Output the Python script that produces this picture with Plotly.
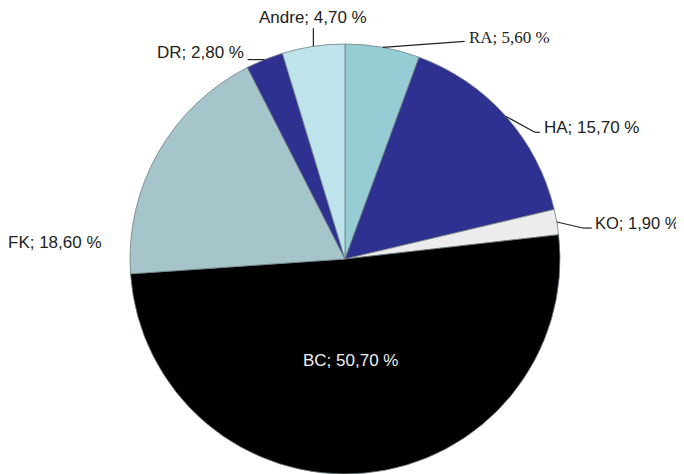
import math
import plotly.graph_objects as go

# ---- data ----
categories = ["RA", "HA", "KO", "BC", "FK", "DR", "Andre"]
shares = [5.60, 15.70, 1.90, 50.70, 18.60, 2.80, 4.70]
label_texts = ["RA; 5,60 %", "HA; 15,70 %", "KO; 1,90 %", "BC; 50,70 %",
               "FK; 18,60 %", "DR; 2,80 %", "Andre; 4,70 %"]

# ---- style ----
colors = ["#96cdd4", "#2f3190", "#ececec", "#000000", "#a6c5cb", "#2f3190", "#bee3ea"]
OFF = 8                      # browser page margin
W, H = 684 - OFF, 474 - OFF
CX, CY, R = 345 - OFF, 259 - OFF, 215

# per-label placement offsets (pixels)
label_style = {
    "RA":    dict(leg=[(82, -6)], txt=(2, -4), xa="left", font="Liberation Serif", size=17),
    "HA":    dict(leg=[(29, 16), (5, 0)], txt=(2, -5), xa="left", font="Liberation Sans", size=17),
    "KO":    dict(leg=[(26, 6), (9, 0)], txt=(1, -5), xa="left", font="Liberation Sans", size=16.5),
    "BC":    dict(leg=None, inner=(350 - OFF, 360 - OFF), xa="center", font="Liberation Sans", size=17),
    "FK":    dict(leg=None, outer=(104 - OFF, 242 - OFF), xa="right", font="Liberation Sans", size=17),
    "DR":    dict(leg=[(-17, 0)], txt=(-2, -7), xa="right", font="Liberation Sans", size=17),
    "Andre": dict(leg=[(0, -18)], txt=(0, -11), xa="center", font="Liberation Sans", size=17),
}

fig = go.Figure(go.Pie(
    labels=categories,
    values=shares,
    sort=False,
    direction="clockwise",
    rotation=0,
    marker=dict(colors=colors, line=dict(color="#6f7f85", width=0.8)),
    textinfo="none",
    hoverinfo="label+percent",
    showlegend=False,
    domain=dict(x=[(CX - R) / W, (CX + R) / W], y=[1 - (CY + R) / H, 1 - (CY - R) / H]),
))

def to_paper(px, py):
    return px / W, 1 - py / H

total = sum(shares)
cum = 0.0
shapes, annotations = [], []
for cat, val, txt in zip(categories, shares, label_texts):
    mid = (cum + val / 2) / total * 2 * math.pi
    cum += val
    st = label_style[cat]
    rim = (CX + R * math.sin(mid), CY - R * math.cos(mid))
    font_color = "#f0f0f0" if cat == "BC" else "#222222"
    if st.get("leg"):
        pts = [rim]
        for dx, dy in st["leg"]:
            pts.append((pts[-1][0] + dx, pts[-1][1] + dy))
        for a, b in zip(pts[:-1], pts[1:]):
            x0, y0 = to_paper(*a)
            x1, y1 = to_paper(*b)
            shapes.append(dict(type="line", xref="paper", yref="paper",
                               x0=x0, y0=y0, x1=x1, y1=y1,
                               line=dict(color="#222222", width=1.2)))
        tx, ty = pts[-1][0] + st["txt"][0], pts[-1][1] + st["txt"][1]
    elif "inner" in st:
        tx, ty = st["inner"]
    else:
        tx, ty = st["outer"]
    ax, ay = to_paper(tx, ty)
    annotations.append(dict(x=ax, y=ay, xref="paper", yref="paper", text=txt,
                            showarrow=False, xanchor=st["xa"], yanchor="middle",
                            font=dict(family=st["font"], size=st["size"], color=font_color)))

fig.update_layout(
    width=W, height=H,
    margin=dict(l=0, r=0, t=0, b=0),
    paper_bgcolor="white", plot_bgcolor="white",
    shapes=shapes, annotations=annotations,
)
fig.write_html("out.html")
